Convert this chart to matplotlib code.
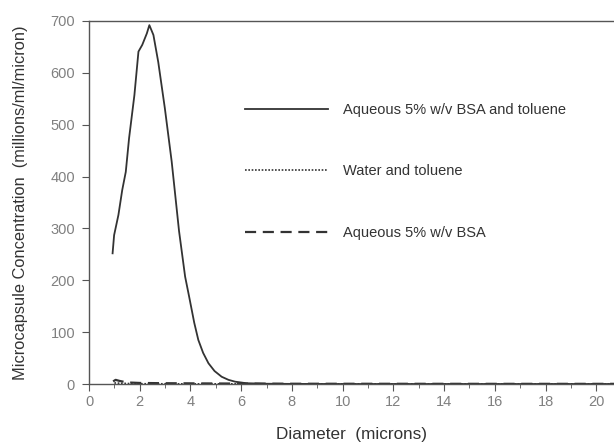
import matplotlib
matplotlib.use("Agg")
import matplotlib.pyplot as plt

plt.rcParams['font.family'] = ['Liberation Sans', 'DejaVu Sans']

# Aqueous 5% w/v BSA and toluene
d_bsa_tol = [0.93, 0.99, 1.16, 1.31, 1.45, 1.58, 1.79, 1.95, 2.10, 2.28, 2.38,
             2.54, 2.73, 2.99, 3.26, 3.55, 3.79, 3.95, 4.15, 4.31, 4.5, 4.71,
             4.95, 5.23, 5.5, 5.76, 6.2, 7.0, 8.0, 10.0, 14.0, 18.0, 20.7]
c_bsa_tol = [252, 287, 326, 374, 409, 474, 557, 641, 654, 676, 692,
             673, 621, 532, 429, 295, 207, 168, 118, 85, 60, 40,
             25, 14, 8, 4.5, 1.5, 0.5, 0.2, 0, 0, 0, 0]

# Water and toluene
d_water = [1.0, 1.5, 2.0, 4.0, 8.0, 12.0, 16.0, 20.7]
c_water = [2, 1, 0.5, 0.3, 0.2, 0.1, 0.1, 0.1]

# Aqueous 5% w/v BSA
d_bsa = [0.95, 1.05, 1.2, 1.5, 2.0, 3.0, 5.0, 8.0, 12.0, 16.0, 20.7]
c_bsa = [5, 8, 6, 3, 2, 1.5, 1, 0.5, 0.4, 0.3, 0.3]

labels = ['Aqueous 5% w/v BSA and toluene', 'Water and toluene', 'Aqueous 5% w/v BSA']

fig = plt.figure(figsize=(6.14, 4.43), dpi=100)
ax = fig.add_axes([89 / 614, 1 - 384 / 443, 1 - 89 / 614, (384 - 21) / 443])

ax.plot(d_bsa_tol, c_bsa_tol, color='#333333', lw=1.3, ls='-', label=labels[0])
ax.plot(d_water, c_water, color='#333333', lw=1.2, ls=(0, (1, 1)), label=labels[1])
ax.plot(d_bsa, c_bsa, color='#333333', lw=1.6, ls=(0, (5, 3)), label=labels[2])

ax.set_xlim(0, 20.7)
ax.set_ylim(0, 700)
ax.set_xticks(range(0, 21, 2))
ax.set_xticks(range(0, 21, 1), minor=True)
ax.set_yticks(range(0, 701, 100))

for s in ['left', 'bottom', 'top']:
    ax.spines[s].set_color('#555555')
    ax.spines[s].set_linewidth(1.0)
ax.spines['right'].set_visible(False)

ax.tick_params(axis='both', which='both', colors='#555555', labelcolor='#808080',
               labelsize=10.5, direction='out')
ax.tick_params(axis='x', which='major', length=5, pad=3)
ax.tick_params(axis='x', which='minor', length=3)
ax.tick_params(axis='y', length=5, pad=5)

ax.set_xlabel('Diameter  (microns)', fontsize=12.3, color='#333333', labelpad=13)
ax.set_ylabel('Microcapsule Concentration  (millions/ml/micron)', fontsize=11.8,
              color='#333333', labelpad=16)

ax.legend(loc='upper left', bbox_to_anchor=(245 / 614, 1 - 103 / 443),
          bbox_transform=fig.transFigure, frameon=False, fontsize=10.5,
          handlelength=5.7, handletextpad=1.0, labelspacing=3.25,
          borderpad=0, borderaxespad=0, labelcolor='#333333')

fig.savefig('out.png', dpi=100)
